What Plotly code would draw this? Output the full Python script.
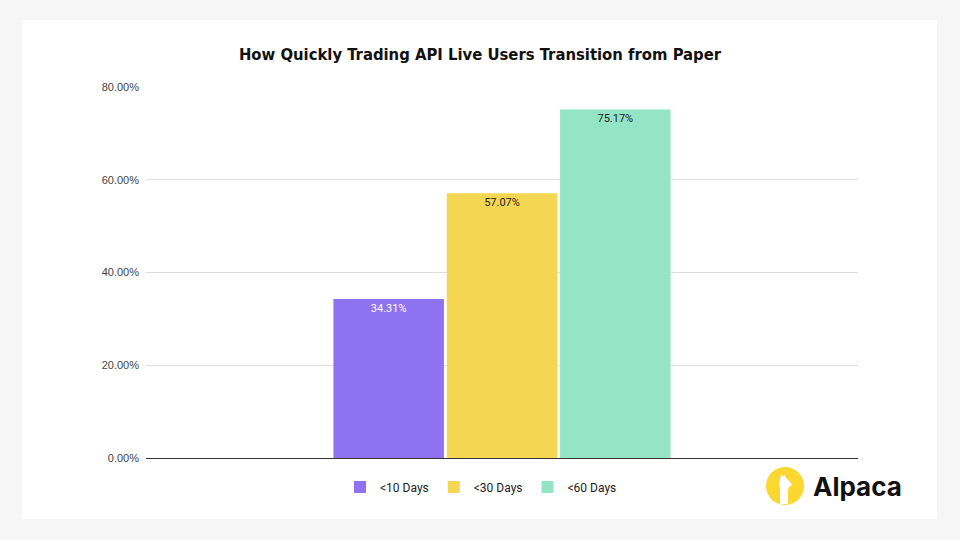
import plotly.graph_objects as go

categories = ["<10 Days", "<30 Days", "<60 Days"]
values = [34.31, 57.07, 75.17]
colors = ["#8f72ef", "#f5d652", "#94e5c6"]
text_colors = ["#ffffff", "#222222", "#222222"]
y_ticks = [0, 20, 40, 60, 80]
y_tick_text = [f"{t:.2f}%" for t in y_ticks]
title = "How Quickly Trading API Live Users Transition from Paper"

fig = go.Figure()
for name, v, c, tc in zip(categories, values, colors, text_colors):
    fig.add_trace(go.Bar(
        x=[""], y=[v], name=name,
        marker=dict(color=c, line=dict(width=0)),
        text=[f"{v:.2f}%"], textposition="inside", insidetextanchor="end",
        textfont=dict(color=tc, size=11, family="Roboto, Arial, sans-serif"),
        textangle=0,
    ))

L, R, T, B = 146, 102, 87, 82
W, H = 960, 540
pw, ph = W - L - R, H - T - B

def px(x):
    return (x - L) / pw

def py(y):
    return (H - B - y) / ph

shapes = [
    dict(type="rect", xref="paper", yref="paper", x0=px(22), x1=px(937),
         y0=py(519), y1=py(20), fillcolor="white", line=dict(width=0), layer="below"),
    dict(type="circle", xref="paper", yref="paper", xsizemode="pixel", ysizemode="pixel",
         xanchor=px(785), yanchor=py(486), x0=-19, x1=19, y0=-19, y1=19,
         fillcolor="#fbd730", line=dict(width=0)),
]
llama = [(-5, -18), (-5, -2), (-6, 3), (-5, 7), (-4, 12), (-2, 9), (-1, 12), (1, 8), (3, 6),
         (6, 3), (7, 1), (4, -1), (3, -4), (3, -18)]
path = "M " + " L ".join(f"{a},{b}" for a, b in llama) + " Z"
shapes.append(dict(type="path", xref="paper", yref="paper", xsizemode="pixel", ysizemode="pixel",
                   xanchor=px(785), yanchor=py(486), path=path,
                   fillcolor="white", line=dict(width=0)))

fig.update_layout(
    width=W, height=H,
    margin=dict(l=L, r=R, t=T, b=B),
    paper_bgcolor="#f6f6f6",
    plot_bgcolor="rgba(0,0,0,0)",
    title=dict(text=f"<b>{title}</b>", x=0.5, xanchor="center", xref="container",
               y=1 - 54 / H, yanchor="middle",
               font=dict(family="Liberation Sans Narrow, DejaVu Sans Condensed, Arial", size=16.5, color="#111111")),
    barmode="group", bargap=0.5225, bargroupgap=0.025,
    showlegend=True,
    legend=dict(orientation="h", x=px(481), xanchor="center", y=py(487), yanchor="middle",
                font=dict(family="Roboto, Arial, sans-serif", size=12, color="#222222"),
                bgcolor="rgba(0,0,0,0)", itemwidth=30),
    xaxis=dict(showticklabels=False, showgrid=False, zeroline=False, showline=False),
    yaxis=dict(range=[0, 80], tickvals=y_ticks, ticktext=y_tick_text, tickmode="array",
               showgrid=True, gridcolor="#dddddd", gridwidth=1,
               zeroline=True, zerolinecolor="#333333", zerolinewidth=1,
               tickfont=dict(family="Liberation Sans, Arial", size=11, color="#444444"),
               ticklabelstandoff=6),
    shapes=shapes,
    annotations=[dict(text="<b>Alpaca</b>", xref="paper", yref="paper", x=px(811), y=py(487),
                      xanchor="left", yanchor="middle", showarrow=False,
                      font=dict(family="Inter, Lato, sans-serif", size=26, color="#111111"))],
)

fig.write_html("out.html", config={"displayModeBar": False},
               post_script="document.body.style.margin='0';")
